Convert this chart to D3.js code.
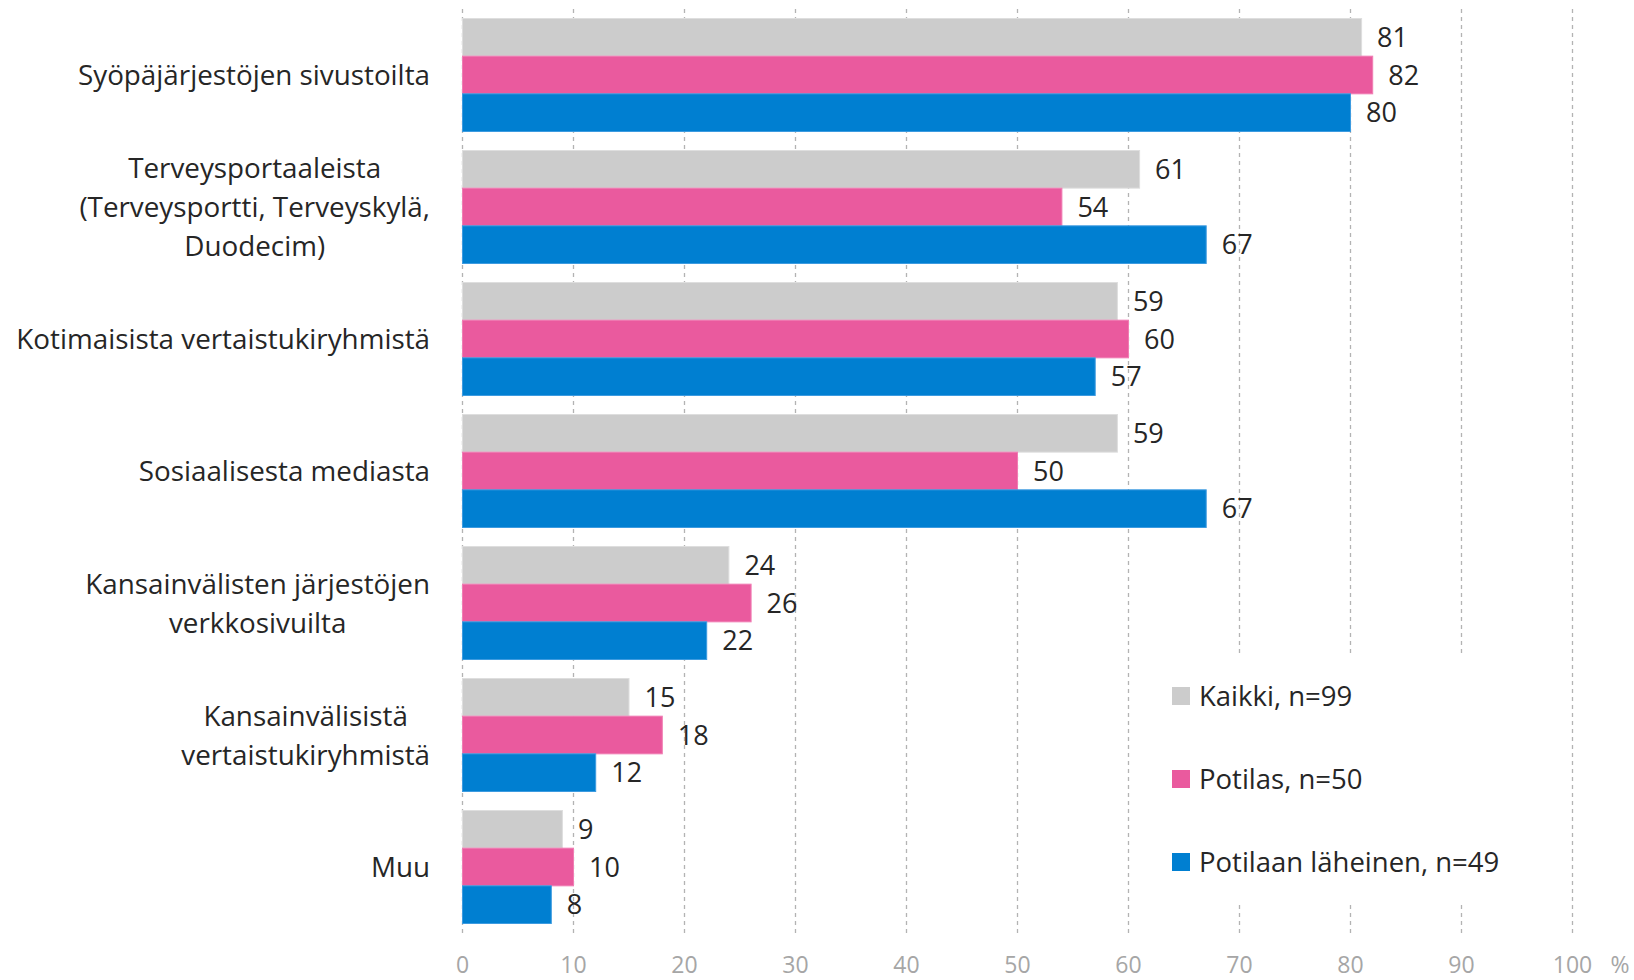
<!DOCTYPE html>
<html>
<head>
<meta charset="utf-8">
<script src="https://cdnjs.cloudflare.com/ajax/libs/d3/7.8.5/d3.min.js"></script>
<style>
    body { margin: 0; background: #ffffff; }
    text { font-family: "Open Sans", "Noto Sans", sans-serif; }
</style>
</head>
<body>
<div class="chart"></div>
<script>
// chart data
var categories = [
    ["Syöpäjärjestöjen sivustoilta"],
    ["Terveysportaaleista", "(Terveysportti, Terveyskylä,", "Duodecim)"],
    ["Kotimaisista vertaistukiryhmistä"],
    ["Sosiaalisesta mediasta"],
    ["Kansainvälisten järjestöjen", "verkkosivuilta"],
    ["Kansainvälisistä", "vertaistukiryhmistä"],
    ["Muu"]
];
var seriesNames = ["Kaikki, n=99", "Potilas, n=50", "Potilaan läheinen, n=49"];
var kaikki = [81, 61, 59, 59, 24, 15, 9];
var potilas = [82, 54, 60, 50, 26, 18, 10];
var laheinen = [80, 67, 57, 67, 22, 12, 8];
var xTicks = [0, 10, 20, 30, 40, 50, 60, 70, 80, 90, 100];

var colors = ["#cccccc", "#ea5a9e", "#007fd1"];
var strokes = ["#dedede", "#f07db3", "#3d9be0"];

var svgWidth = 1634;
var svgHeight = 980;

var margin = {
    top: 9,
    right: 62,
    bottom: 47,
    left: 462
};

var width = svgWidth - margin.left - margin.right;
var height = svgHeight - margin.top - margin.bottom;

var svg = d3
    .select(".chart")
    .append("svg")
    .attr("width", svgWidth)
    .attr("height", svgHeight);

var chartGroup = svg.append("g")
    .attr("transform", `translate(${margin.left}, ${margin.top})`);

var values = [kaikki, potilas, laheinen];
var keys = categories.map((d, i) => "c" + i);

var xLinearScale = d3.scaleLinear()
    .domain([0, 100])
    .range([0, width]);

var yBandScale = d3.scaleBand()
    .domain(keys)
    .range([0, height])
    .paddingInner(0.144)
    .paddingOuter(0.072);

var ySeries = d3.scaleBand()
    .domain(seriesNames)
    .range([0, yBandScale.bandwidth()]);

// dashed gridlines
chartGroup.selectAll(".grid")
    .data(xTicks)
    .enter()
    .append("line")
    .attr("class", "grid")
    .attr("x1", d => xLinearScale(d) + 0.5)
    .attr("x2", d => xLinearScale(d) + 0.5)
    .attr("y1", 0)
    .attr("y2", height)
    .attr("stroke", "#b3b3b3")
    .attr("stroke-width", 1.3)
    .attr("stroke-dasharray", "4,4");

// bars
var groups = chartGroup.selectAll(".cat")
    .data(keys)
    .enter()
    .append("g")
    .attr("class", "cat")
    .attr("transform", d => `translate(0, ${yBandScale(d)})`);

groups.each(function(k, i) {
    var g = d3.select(this);
    seriesNames.forEach(function(s, j) {
        var v = values[j][i];
        g.append("rect")
            .attr("x", 0.5)
            .attr("y", ySeries(s))
            .attr("width", xLinearScale(v))
            .attr("height", ySeries.bandwidth())
            .attr("fill", colors[j])
            .attr("stroke", strokes[j])
            .attr("stroke-width", 1);
        g.append("text")
            .attr("x", xLinearScale(v) + 16)
            .attr("y", ySeries(s) + ySeries.bandwidth() / 2)
            .attr("dy", "0.36em")
            .attr("font-size", "27px")
            .attr("fill", "#262626")
            .text(v);
    });
});

// x axis labels
var xAxis = d3.axisBottom(xLinearScale)
    .tickValues(xTicks)
    .tickSize(0)
    .tickPadding(0);

var xAxisGroup = chartGroup.append("g")
    .attr("transform", `translate(0, ${height})`)
    .call(xAxis);

xAxisGroup.select(".domain").remove();
xAxisGroup.selectAll("text")
    .attr("y", 32)
    .attr("dy", "0.36em")
    .attr("font-size", "23px")
    .attr("font-family", "Open Sans, sans-serif")
    .attr("fill", "#a6a6a6");

chartGroup.append("text")
    .attr("x", width + 48)
    .attr("y", height + 32)
    .attr("dy", "0.36em")
    .attr("text-anchor", "middle")
    .attr("font-size", "23px")
    .attr("fill", "#a6a6a6")
    .text("%");

// category labels (centered block, right edge near axis)
var labelRight = 430;
var lineH = 39;
categories.forEach(function(lines, i) {
    var cy = margin.top + yBandScale(keys[i]) + yBandScale.bandwidth() / 2;
    var t = svg.append("text")
        .attr("font-size", "27.8px")
        .attr("fill", "#262626")
        .attr("text-anchor", "middle");
    lines.forEach(function(l, j) {
        t.append("tspan")
            .attr("y", cy + (j - (lines.length - 1) / 2) * lineH)
            .attr("dy", "0.36em")
            .text(l);
    });
    var w = d3.max(t.selectAll("tspan").nodes(), n => n.getComputedTextLength());
    t.selectAll("tspan").attr("x", labelRight - w / 2);
});

// legend with white box over the gridlines
var legend = svg.append("g")
    .attr("transform", "translate(1160, 654)");

legend.append("rect")
    .attr("width", 380)
    .attr("height", 251)
    .attr("fill", "#ffffff");

seriesNames.forEach(function(s, j) {
    var cy = 42 + j * 83;
    legend.append("rect")
        .attr("x", 12)
        .attr("y", cy - 9)
        .attr("width", 18)
        .attr("height", 18)
        .attr("fill", colors[j]);
    legend.append("text")
        .attr("x", 39)
        .attr("y", cy)
        .attr("dy", "0.36em")
        .attr("font-size", "27.5px")
        .attr("fill", "#262626")
        .text(s);
});
</script>
</body>
</html>
